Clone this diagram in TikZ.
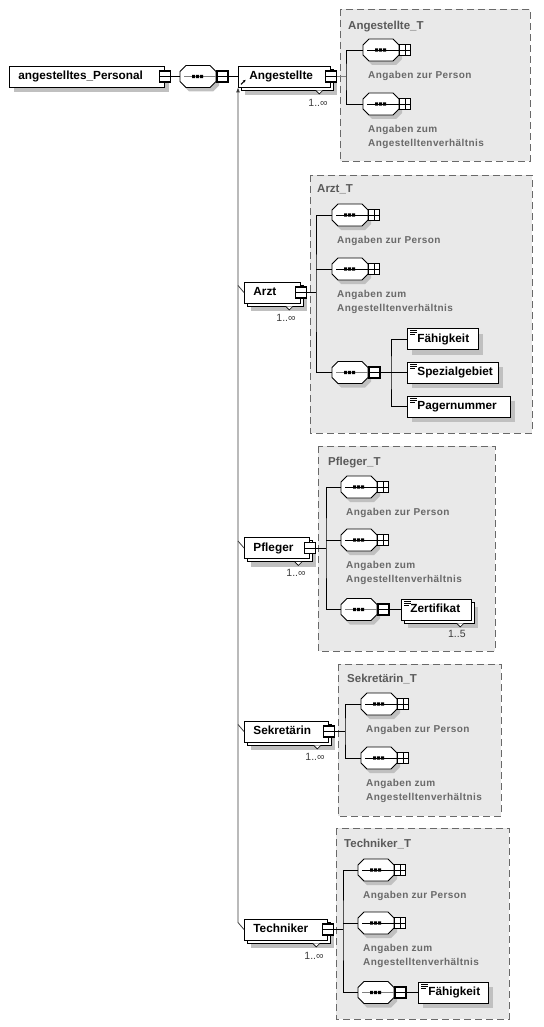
\documentclass[tikz,border=0pt]{standalone}
\usepackage{fontspec}
\setmainfont{Liberation Sans}
\newfontfamily\lblfont[LetterSpace=4]{Liberation Sans}
\usetikzlibrary{arrows.meta}
\definecolor{shadowc}{RGB}{192,192,192}
\definecolor{boxfill}{RGB}{233,233,233}
\definecolor{boxline}{RGB}{105,105,105}
\definecolor{lblc}{RGB}{105,105,105}
\definecolor{titlec}{RGB}{90,90,90}
\definecolor{connc}{RGB}{60,60,60}
\newcommand\elbox[2]{\hbox to #1pt{#2\hss}}
\tikzset{
 elembase/.style={draw, fill=white, line width=0.8pt, minimum height=21, inner ysep=0,
   text height=8.5pt, text depth=2.5pt, anchor=west, font=\bfseries\fontsize{11.8}{13}\selectfont},
 elem/.style={elembase, preaction={fill=shadowc, transform canvas={shift={(5,5)}}}},
 elemstack/.style={elembase, preaction={fill=shadowc, transform canvas={shift={(7,8)}}},
   preaction={draw, fill=white, line width=0.8pt, transform canvas={shift={(3,3)}}}},
 typebox/.style={draw=boxline, fill=boxfill, dash pattern=on 7pt off 4pt, line width=0.8pt},
 sqm/.style={draw, fill=white, line width=1.1pt, minimum size=11, inner sep=0,
   path picture={\draw[line width=1pt] (path picture bounding box.west) -- (path picture bounding box.east);}},
 sqp/.style={draw, fill=white, line width=0.9pt, minimum size=10.5, inner sep=0,
   path picture={\draw[line width=0.8pt] (path picture bounding box.west) -- (path picture bounding box.east)
     (path picture bounding box.north) -- (path picture bounding box.south);}},
 glabel/.style={anchor=base west, text=lblc, inner sep=0, font=\lblfont\bfseries\fontsize{10}{12}\selectfont},
 ttitle/.style={anchor=base west, text=titlec, inner sep=0, font=\bfseries\fontsize{11.5}{14}\selectfont},
 mult/.style={anchor=base east, inner sep=0, text=connc, font=\fontsize{10.5}{12}\selectfont},
 conn/.style={draw=connc, line width=0.8pt},
 link/.style={draw=black, line width=0.8pt},
}
% sequence compositor octagon: name, left x, centre y, inner line colour
\newcommand\seqoct[4]{%
 \begin{scope}[shift={(#2,#3)}]
  \fill[shadowc] (3,-1) -- (9,-7) -- (33,-7) -- (39,-1) -- (39,9) -- (33,15) -- (9,15) -- (3,9) -- cycle;
  \draw[fill=white, line width=0.8pt] (0,-5) -- (6,-11) -- (30,-11) -- (36,-5) -- (36,5) -- (30,11) -- (6,11) -- (0,5) -- cycle;
  \draw[#4, line width=0.8pt] (4,0) -- (36,0);
  \fill (12,-1.6) rectangle (15,1.6) (16,-1.6) rectangle (19,1.6) (20,-1.6) rectangle (23,1.6);
  \node[anchor=west, minimum width=36, minimum height=22, inner sep=0] (#1) at (0,0) {};
 \end{scope}}
\newcommand\simpleicon[1]{%
 \draw[line width=0.6pt] ([shift={(3,2.5)}]#1.north west) -- ++(7,0)
   ([shift={(3,4.5)}]#1.north west) -- ++(7,0) ([shift={(3,6.5)}]#1.north west) -- ++(5,0);}
\newcommand\chev[1]{%
 \draw[fill=white, line width=0.6pt] ([shift={(-15,3)}]#1.south east) -- ++(3.5,3.5) -- ++(3.5,-3.5);}
\begin{document}
\begin{tikzpicture}[x=1pt,y=-1pt]
\useasboundingbox (0,0) rectangle (543,1027);

% ---------- type boxes ----------
\draw[typebox] (340,9) rectangle (530,161);
\node[ttitle] (tAng) at (348,29.3) {Angestellte\_T};
\draw[typebox] (310,175) rectangle (532,433);
\node[ttitle] (tArzt) at (317,192.3) {Arzt\_T};
\draw[typebox] (318,446) rectangle (495,651);
\node[ttitle] (tPfl) at (328,465.3) {Pfleger\_T};
\draw[typebox] (338,664) rectangle (501,816);
\node[ttitle] (tSek) at (347,682.3) {Sekretärin\_T};
\draw[typebox] (336,828) rectangle (509,1019);
\node[ttitle] (tTech) at (344,847.3) {Techniker\_T};

% ---------- root ----------
\node[elem, inner xsep=9] (root) at (9,76.5) {\elbox{137}{angestelltes\_Personal}};
\node[sqm] (rootsq) at (root.east) {};
\seqoct{seq0}{180}{76.5}{gray}
\node[sqm, anchor=west] (seq0sq) at (seq0.east) {};
\node[elemstack, inner xsep=11] (ang) at (238,76.5) {\elbox{70}{Angestellte}};
\chev{ang}
\node[sqm] (angsq) at (ang.east) {};
\draw[line width=1pt, -{Stealth[length=2.5pt,width=2.8pt]}] ([shift={(3,-3)}]ang.south west) -- ++(4.5,-4.5);
\node[mult] (mAng) at ([shift={(-3,18.7)}]ang.south east) {1..∞};
\draw[link] (rootsq.east) -- (seq0.west);
\draw[link] (seq0sq.east) -- (ang.west);

% ---------- Angestellte_T ----------
\seqoct{angA}{363}{50}{black}
\node[sqp, anchor=west] (angAsq) at (angA.east) {};
\seqoct{angB}{363}{104}{black}
\node[sqp, anchor=west] (angBsq) at (angB.east) {};
\node[glabel] (angAl) at (368,78.5) {Angaben zur Person};
\node[glabel] (angBl1) at (368,132.5) {Angaben zum};
\node[glabel] (angBl2) at (368,146.5) {Angestelltenverhältnis};
\coordinate (angbr) at (346,76.5);
\draw[draw=gray, line width=0.8pt] (angsq.east) -- (angbr);
\draw[link] (angA.west) -| (angbr) |- (angB.west);

% ---------- Arzt ----------
\node[elemstack, inner xsep=9] (arzt) at (244,292.5) {\elbox{38}{Arzt}};
\chev{arzt}
\node[sqm] (arztsq) at (arzt.east) {};
\node[mult] (mArzt) at ([shift={(-5,17.7)}]arzt.south east) {1..∞};
\seqoct{arztA}{332}{215}{black}
\node[sqp, anchor=west] (arztAsq) at (arztA.east) {};
\seqoct{arztB}{332}{269}{black}
\node[sqp, anchor=west] (arztBsq) at (arztB.east) {};
\seqoct{arztC}{332}{372.5}{gray}
\node[sqm, anchor=west] (arztCsq) at (arztC.east) {};
\node[glabel] (arztAl) at (337,243.5) {Angaben zur Person};
\node[glabel] (arztBl1) at (337,297.5) {Angaben zum};
\node[glabel] (arztBl2) at (337,311.5) {Angestelltenverhältnis};
\coordinate (arztbr) at (316,292.5);
\draw[link] (arztsq.east) -- (arztbr);
\draw[link] (arztA.west) -| (arztbr) |- (arztC.west);
\draw[link] (arztB.west) -- (arztB.west -| arztbr);
\node[elem, inner xsep=10] (faeh1) at (407,339) {\elbox{51}{Fähigkeit}};
\simpleicon{faeh1}
\node[elem, inner xsep=10] (spez) at (407,372.5) {\elbox{71}{Spezialgebiet}};
\simpleicon{spez}
\node[elem, inner xsep=10] (pager) at (407,406.5) {\elbox{83}{Pagernummer}};
\simpleicon{pager}
\coordinate (arztbr2) at (391,372.5);
\draw[link] (arztCsq.east) -- (spez.west);
\draw[link] (faeh1.west) -| (arztbr2) |- (pager.west);

% ---------- Pfleger ----------
\node[elemstack, inner xsep=9] (pfl) at (244,548) {\elbox{47}{Pfleger}};
\chev{pfl}
\node[sqm] (pflsq) at (pfl.east) {};
\node[mult] (mPfl) at ([shift={(-4,17.7)}]pfl.south east) {1..∞};
\seqoct{pflA}{341}{487}{black}
\node[sqp, anchor=west] (pflAsq) at (pflA.east) {};
\seqoct{pflB}{341}{540}{black}
\node[sqp, anchor=west] (pflBsq) at (pflB.east) {};
\seqoct{pflC}{341}{609.5}{gray}
\node[sqm, anchor=west] (pflCsq) at (pflC.east) {};
\node[glabel] (pflAl) at (346,515.5) {Angaben zur Person};
\node[glabel] (pflBl1) at (346,568.5) {Angaben zum};
\node[glabel] (pflBl2) at (346,582.5) {Angestelltenverhältnis};
\coordinate (pflbr) at (326,548);
\draw[link] (pflsq.east) -- (pflbr);
\draw[link] (pflA.west) -| (pflbr) |- (pflC.west);
\draw[link] (pflB.west) -- (pflB.west -| pflbr);
\node[elemstack, inner xsep=9] (zert) at (401,609.5) {\elbox{52}{Zertifikat}};
\chev{zert}
\simpleicon{zert}
\node[mult] (mZert) at ([shift={(-6,16.7)}]zert.south east) {1..5};
\draw[link] (pflCsq.east) -- (zert.west);

% ---------- Sekretärin ----------
\node[elemstack, inner xsep=9] (sek) at (244,731.5) {\elbox{66}{Sekretärin}};
\chev{sek}
\node[sqm] (seksq) at (sek.east) {};
\node[mult] (mSek) at ([shift={(-4,17.7)}]sek.south east) {1..∞};
\seqoct{sekA}{361}{704}{black}
\node[sqp, anchor=west] (sekAsq) at (sekA.east) {};
\seqoct{sekB}{361}{758}{black}
\node[sqp, anchor=west] (sekBsq) at (sekB.east) {};
\node[glabel] (sekAl) at (366,732.5) {Angaben zur Person};
\node[glabel] (sekBl1) at (366,786.5) {Angaben zum};
\node[glabel] (sekBl2) at (366,800.5) {Angestelltenverhältnis};
\coordinate (sekbr) at (345,731.5);
\draw[link] (seksq.east) -- (sekbr);
\draw[link] (sekA.west) -| (sekbr) |- (sekB.west);

% ---------- Techniker ----------
\node[elemstack, inner xsep=9] (tech) at (244,929.5) {\elbox{65}{Techniker}};
\chev{tech}
\node[sqm] (techsq) at (tech.east) {};
\node[mult] (mTech) at ([shift={(-4,18.7)}]tech.south east) {1..∞};
\seqoct{techA}{358}{870}{black}
\node[sqp, anchor=west] (techAsq) at (techA.east) {};
\seqoct{techB}{358}{923}{black}
\node[sqp, anchor=west] (techBsq) at (techB.east) {};
\seqoct{techC}{358}{992.5}{gray}
\node[sqm, anchor=west] (techCsq) at (techC.east) {};
\node[glabel] (techAl) at (363,898.5) {Angaben zur Person};
\node[glabel] (techBl1) at (363,951.5) {Angaben zum};
\node[glabel] (techBl2) at (363,965.5) {Angestelltenverhältnis};
\coordinate (techbr) at (343,929.5);
\draw[link] (techsq.east) -- (techbr);
\draw[link] (techA.west) -| (techbr) |- (techC.west);
\draw[link] (techB.west) -- (techB.west -| techbr);
\node[elem, inner xsep=10] (faeh2) at (418,992.5) {\elbox{50}{Fähigkeit}};
\simpleicon{faeh2}
\draw[link] (techCsq.east) -- (faeh2.west);

% ---------- substitution connector ----------
\draw[conn] (arzt.west) -- ++(-6,-7);
\draw[conn] (pfl.west) -- ++(-6,-7);
\draw[conn] (sek.west) -- ++(-6,-7);
\draw[conn, -{Latex[length=5pt,width=4pt]}] (tech.west) -- ++(-6,-7) -- (ang.south west);
\end{tikzpicture}
\end{document}
